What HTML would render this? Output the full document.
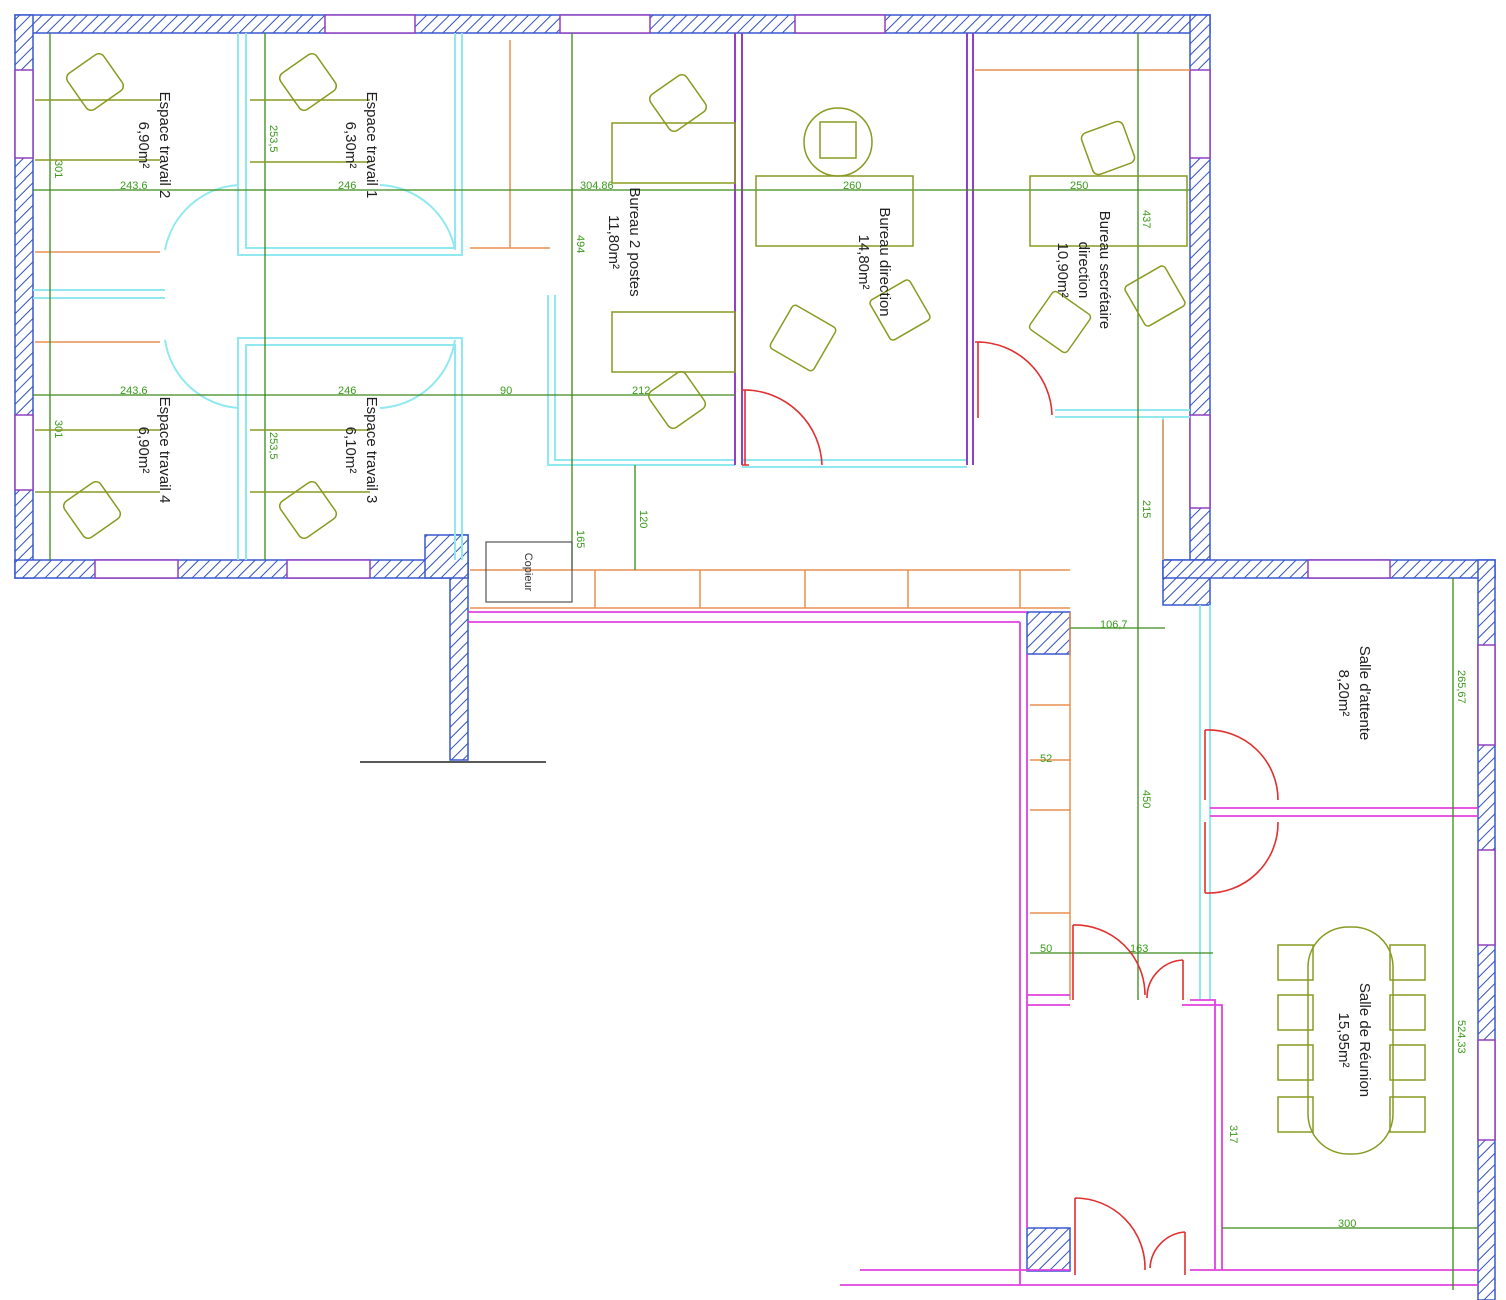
<!DOCTYPE html>
<html><head><meta charset="utf-8"><style>
html,body{margin:0;padding:0;background:#fff}
svg{display:block}
text{font-family:"Liberation Sans",sans-serif}
.rl{font-size:15px;fill:#222}
.dm{font-size:11px;fill:#3a9a1a}
</style></head><body>
<svg width="1506" height="1300" viewBox="0 0 1506 1300" xmlns="http://www.w3.org/2000/svg">
<defs>
<pattern id="h" width="8" height="8" patternUnits="userSpaceOnUse" patternTransform="rotate(45)">
<rect width="8" height="8" fill="#fff"/><line x1="0" y1="0" x2="0" y2="8" stroke="#3050c0" stroke-width="2"/>
</pattern>
</defs>
<g stroke="#3858d0" stroke-width="1.5" fill="url(#h)">
<rect x="15" y="15" width="1195" height="18"/>
<rect x="15" y="15" width="18" height="563"/>
<rect x="15" y="560" width="453" height="18"/>
<rect x="450" y="535" width="18" height="225"/>
<rect x="425" y="535" width="43" height="43"/>
<rect x="1190" y="15" width="20" height="545"/>
<rect x="1163" y="560" width="47" height="45"/>
<rect x="1163" y="560" width="332" height="18"/>
<rect x="1478" y="560" width="17" height="740"/>
<rect x="1027" y="612" width="43" height="42"/>
<rect x="1027" y="1228" width="43" height="43"/>
</g>
<g stroke="#9040c0" stroke-width="1.5" fill="#fff">
<rect x="325" y="15" width="90" height="18"/><rect x="560" y="15" width="90" height="18"/><rect x="795" y="15" width="90" height="18"/>
<rect x="15" y="70" width="18" height="88"/><rect x="15" y="415" width="18" height="75"/>
<rect x="95" y="560" width="83" height="18"/><rect x="287" y="560" width="83" height="18"/>
<rect x="1190" y="70" width="20" height="88"/><rect x="1190" y="415" width="20" height="93"/>
<rect x="1308" y="560" width="82" height="18"/>
<rect x="1478" y="645" width="17" height="100"/><rect x="1478" y="850" width="17" height="95"/><rect x="1478" y="1040" width="17" height="100"/>
</g>
<line x1="360" y1="762" x2="546" y2="762" stroke="#222" stroke-width="1.5"/>
<!-- cyan partitions -->
<g stroke="#90e8f0" stroke-width="2" fill="none">
<path d="M238 33V255H462V33M246 33V248H455V33"/>
<path d="M238 560V338H462V560M246 560V345H455V560"/>
<path d="M33 290H165M33 298H165"/>
<path d="M548 295V465H735M555 295V460H735"/>
<path d="M742 460H967M742 467H967"/>
<path d="M1055 410H1190M1055 417H1190M1163 417V560"/>
<path d="M1200 605V1000M1210 605V1000"/>
<path d="M165 250A80 80 0 0 1 238 185M165 340A80 80 0 0 0 238 408M380 185A80 80 0 0 1 455 250M380 408A80 80 0 0 0 455 340"/>
</g>
<!-- orange -->
<g stroke="#e89050" stroke-width="1.5" fill="none">
<path d="M35 252H160M35 342H160M470 248H550M510 40V248"/>
<path d="M975 70H1190M1163 420V560"/>
<path d="M470 570H1070M470 608H1070M595 570V608M700 570V608M805 570V608M908 570V608M1020 570V608"/>
<path d="M1070 612V1000M1030 705H1070M1030 760H1070M1030 810H1070M1030 913H1070"/>
</g>
<!-- magenta -->
<g stroke="#e040e0" stroke-width="1.8" fill="none">
<path d="M468 612H1027M468 622H1020"/>
<path d="M1020 622V1285M1027 654V1228"/>
<path d="M1027 995H1070M1027 1005H1070M1190 1000H1215V1270M1182 1005H1222V1270"/>
<path d="M840 1285H1478M860 1270H1070M1190 1270H1478"/>
<path d="M1210 808H1478M1210 816H1478"/>
</g>
<!-- purple walls -->
<g stroke="#9040c0" stroke-width="2" fill="none">
<path d="M735 33V465M742 33V465M967 33V465M973 33V465"/>
</g>
<!-- green dims -->
<g stroke="#3a8a1a" stroke-width="1.3" fill="none">
<path d="M33 190H1190M33 395H735"/>
<path d="M50 33V560M265 33V560M572 33V570M1138 33V1000M1453 578V1290M1222 1228H1478M635 465V570M1070 628H1165M1030 953H1213"/>
</g>
<g class="dm">
<text x="120" y="189">243,6</text><text x="338" y="189">246</text><text x="580" y="189">304,86</text><text x="843" y="189">260</text><text x="1070" y="189">250</text>
<text x="120" y="394">243,6</text><text x="338" y="394">246</text><text x="500" y="394">90</text><text x="632" y="394">212</text>
<text x="1100" y="628">106,7</text><text x="1040" y="762">52</text><text x="1040" y="952">50</text><text x="1130" y="952">163</text><text x="1338" y="1227">300</text>
<text transform="translate(55,160) rotate(90)">301</text><text transform="translate(55,420) rotate(90)">301</text>
<text transform="translate(270,125) rotate(90)">253,5</text><text transform="translate(270,432) rotate(90)">253,5</text>
<text transform="translate(577,235) rotate(90)">494</text><text transform="translate(640,510) rotate(90)">120</text><text transform="translate(577,530) rotate(90)">165</text>
<text transform="translate(1143,210) rotate(90)">437</text><text transform="translate(1143,500) rotate(90)">215</text><text transform="translate(1143,790) rotate(90)">450</text>
<text transform="translate(1458,670) rotate(90)">265,67</text><text transform="translate(1458,1020) rotate(90)">524,33</text><text transform="translate(1230,1125) rotate(90)">317</text>
</g>
<!-- furniture -->
<g stroke="#8a9a20" stroke-width="1.5" fill="none">
<path d="M35 100H160M35 160H160M250 100H370M250 162H370M35 430H160M35 492H160M250 430H370M250 492H370"/>
<rect x="612" y="123" width="123" height="60"/><rect x="612" y="312" width="123" height="60"/>
<rect x="756" y="176" width="157" height="70"/><rect x="1030" y="176" width="157" height="70"/>
<g transform="translate(95,82) rotate(-35)"><rect x="-22" y="-22" width="44" height="44" rx="6"/></g>
<g transform="translate(308,82) rotate(-35)"><rect x="-22" y="-22" width="44" height="44" rx="6"/></g>
<g transform="translate(92,510) rotate(-35)"><rect x="-22" y="-22" width="44" height="44" rx="6"/></g>
<g transform="translate(308,510) rotate(-35)"><rect x="-22" y="-22" width="44" height="44" rx="6"/></g>
<g transform="translate(678,103) rotate(-35)"><rect x="-22" y="-22" width="44" height="44" rx="6"/></g>
<g transform="translate(677,400) rotate(-35)"><rect x="-22" y="-22" width="44" height="44" rx="6"/></g>
<g transform="translate(838,142) rotate(0)"><circle r="34"/><rect x="-18" y="-20" width="36" height="36"/></g>
<g transform="translate(803,338) rotate(30)"><rect x="-25" y="-25" width="50" height="50" rx="4"/></g>
<g transform="translate(900,310) rotate(-30)"><rect x="-23" y="-23" width="46" height="46" rx="4"/></g>
<g transform="translate(1108,148) rotate(-20)"><rect x="-22" y="-22" width="44" height="44" rx="6"/></g>
<g transform="translate(1060,322) rotate(35)"><rect x="-23" y="-23" width="46" height="46" rx="4"/></g>
<g transform="translate(1155,296) rotate(-30)"><rect x="-23" y="-23" width="46" height="46" rx="4"/></g>
<rect x="1308" y="927" width="85" height="227" rx="40"/>
<rect x="1278" y="945" width="35" height="35"/><rect x="1278" y="995" width="35" height="35"/><rect x="1278" y="1045" width="35" height="35"/><rect x="1278" y="1097" width="35" height="35"/>
<rect x="1390" y="945" width="35" height="35"/><rect x="1390" y="995" width="35" height="35"/><rect x="1390" y="1045" width="35" height="35"/><rect x="1390" y="1097" width="35" height="35"/>
</g>
<rect x="486" y="542" width="86" height="60" fill="none" stroke="#555" stroke-width="1.2"/>
<text transform="translate(525,572) rotate(90)" text-anchor="middle" style="font-size:11px;fill:#333">Copieur</text>
<!-- doors -->
<g stroke="#e03030" stroke-width="1.6" fill="none">
<path d="M745 465V390A78 78 0 0 1 822 465M742 390H749M742 465H749"/>
<path d="M978 418V342A75 75 0 0 1 1052 415M975 342H982"/>
<path d="M1205 730A70 70 0 0 1 1278 800M1205 730V800M1205 893A70 70 0 0 0 1278 822M1205 893V822"/>
<path d="M1073 925A70 70 0 0 1 1145 995M1073 925V1000M1183 960A38 38 0 0 0 1147 998M1183 960V1000"/>
<path d="M1075 1198A70 70 0 0 1 1145 1270M1075 1198V1275M1185 1232A38 38 0 0 0 1150 1268M1185 1232V1275"/>
</g>
<!-- room labels -->
<g class="rl" text-anchor="middle">
<text transform="translate(160,145) rotate(90)">Espace travail 2</text><text transform="translate(139,145) rotate(90)">6,90m²</text>
<text transform="translate(367,145) rotate(90)">Espace travail 1</text><text transform="translate(346,145) rotate(90)">6,30m²</text>
<text transform="translate(160,450) rotate(90)">Espace travail 4</text><text transform="translate(139,450) rotate(90)">6,90m²</text>
<text transform="translate(367,450) rotate(90)">Espace travail 3</text><text transform="translate(346,450) rotate(90)">6,10m²</text>
<text transform="translate(630,242) rotate(90)">Bureau 2 postes</text><text transform="translate(609,242) rotate(90)">11,80m²</text>
<text transform="translate(880,262) rotate(90)">Bureau direction</text><text transform="translate(859,262) rotate(90)">14,80m²</text>
<text transform="translate(1100,270) rotate(90)">Bureau secrétaire</text><text transform="translate(1079,270) rotate(90)">direction</text><text transform="translate(1058,270) rotate(90)">10,90m²</text>
<text transform="translate(1360,693) rotate(90)">Salle d'attente</text><text transform="translate(1339,693) rotate(90)">8,20m²</text>
<text transform="translate(1360,1040) rotate(90)">Salle de Réunion</text><text transform="translate(1339,1040) rotate(90)">15,95m²</text>
</g>
</svg>
</body></html>
